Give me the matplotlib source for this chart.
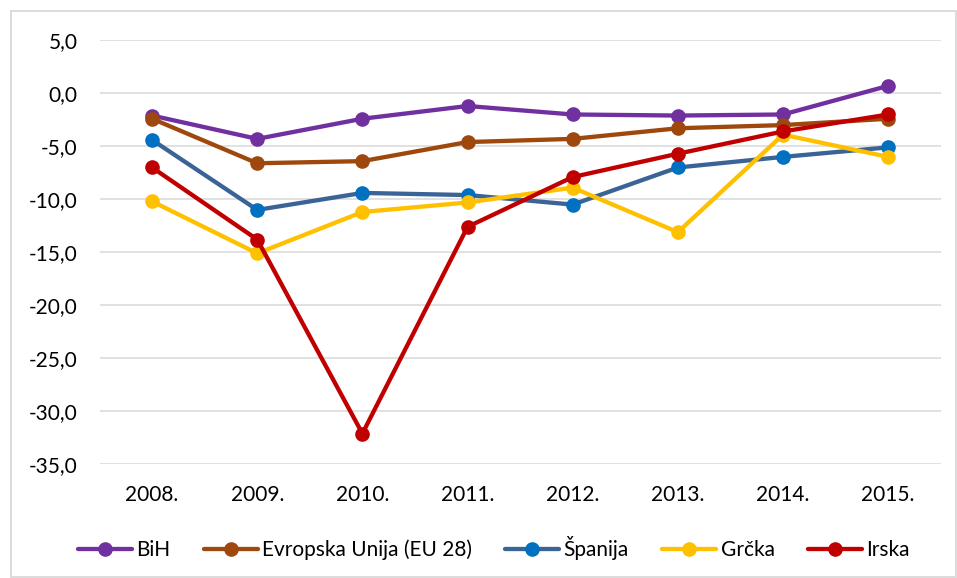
# plot.py - saldo lines 2008-2015, BiH vs EU and selected countries
import matplotlib.pyplot as plt
from matplotlib.patches import Rectangle
from matplotlib.ticker import FuncFormatter

plt.rcParams['font.family'] = ['Lato', 'DejaVu Sans']

years = ['2008.', '2009.', '2010.', '2011.', '2012.', '2013.', '2014.', '2015.']
bih = [-2.1, -4.3, -2.4, -1.2, -2.0, -2.1, -2.0, 0.7]
eu28 = [-2.4, -6.6, -6.4, -4.6, -4.3, -3.3, -3.0, -2.4]
spanija = [-4.4, -11.0, -9.4, -9.6, -10.5, -7.0, -6.0, -5.1]
grcka = [-10.2, -15.1, -11.2, -10.3, -8.9, -13.1, -3.9, -6.0]
irska = [-7.0, -13.8, -32.1, -12.6, -7.9, -5.7, -3.6, -2.0]

series = [
    ('BiH', bih, '#7030A0', '#7030A0'),
    ('Evropska Unija (EU 28)', eu28, '#9E480E', '#9E480E'),
    ('Španija', spanija, '#3B6496', '#0070C0'),
    ('Grčka', grcka, '#FFC000', '#FFC000'),
    ('Irska', irska, '#C00000', '#C00000'),
]

fig = plt.figure(figsize=(9.57, 5.78), dpi=100)
ax = fig.add_axes([0.104, 0.1967, 0.879, 0.7336])

x = list(range(len(years)))
for name, vals, lc, mc in series:
    ax.plot(x, vals, color=lc, lw=3.1, marker='o', ms=9.5,
            markerfacecolor=mc, markeredgecolor=mc, label=name,
            solid_capstyle='round', solid_joinstyle='round')

ax.set_xlim(-0.5, 7.5)
ax.set_ylim(-35, 5)
ax.set_yticks(range(-35, 6, 5))
ax.yaxis.set_major_formatter(FuncFormatter(lambda v, p: f'{v:.1f}'.replace('.', ',')))
ax.set_xticks(x)
ax.set_xticklabels(years)
ax.grid(axis='y', color='#d9d9d9', lw=1.1)
ax.set_axisbelow(True)
for s in ax.spines.values():
    s.set_visible(False)
ax.tick_params(axis='both', length=0, labelsize=15, colors='#000000')
ax.tick_params(axis='y', pad=16)
ax.tick_params(axis='x', pad=15)

fig.legend(loc='center', bbox_to_anchor=(0.516, 0.052), ncol=5, frameon=False,
           fontsize=15, handlelength=2.6, handletextpad=0.2, columnspacing=1.6)

fig.add_artist(Rectangle((10.5 / 957, 1 / 578), 945 / 957, 566 / 578,
                         transform=fig.transFigure, fill=False,
                         edgecolor='#d9d9d9', lw=1.3))

fig.savefig('out.png', dpi=100)
